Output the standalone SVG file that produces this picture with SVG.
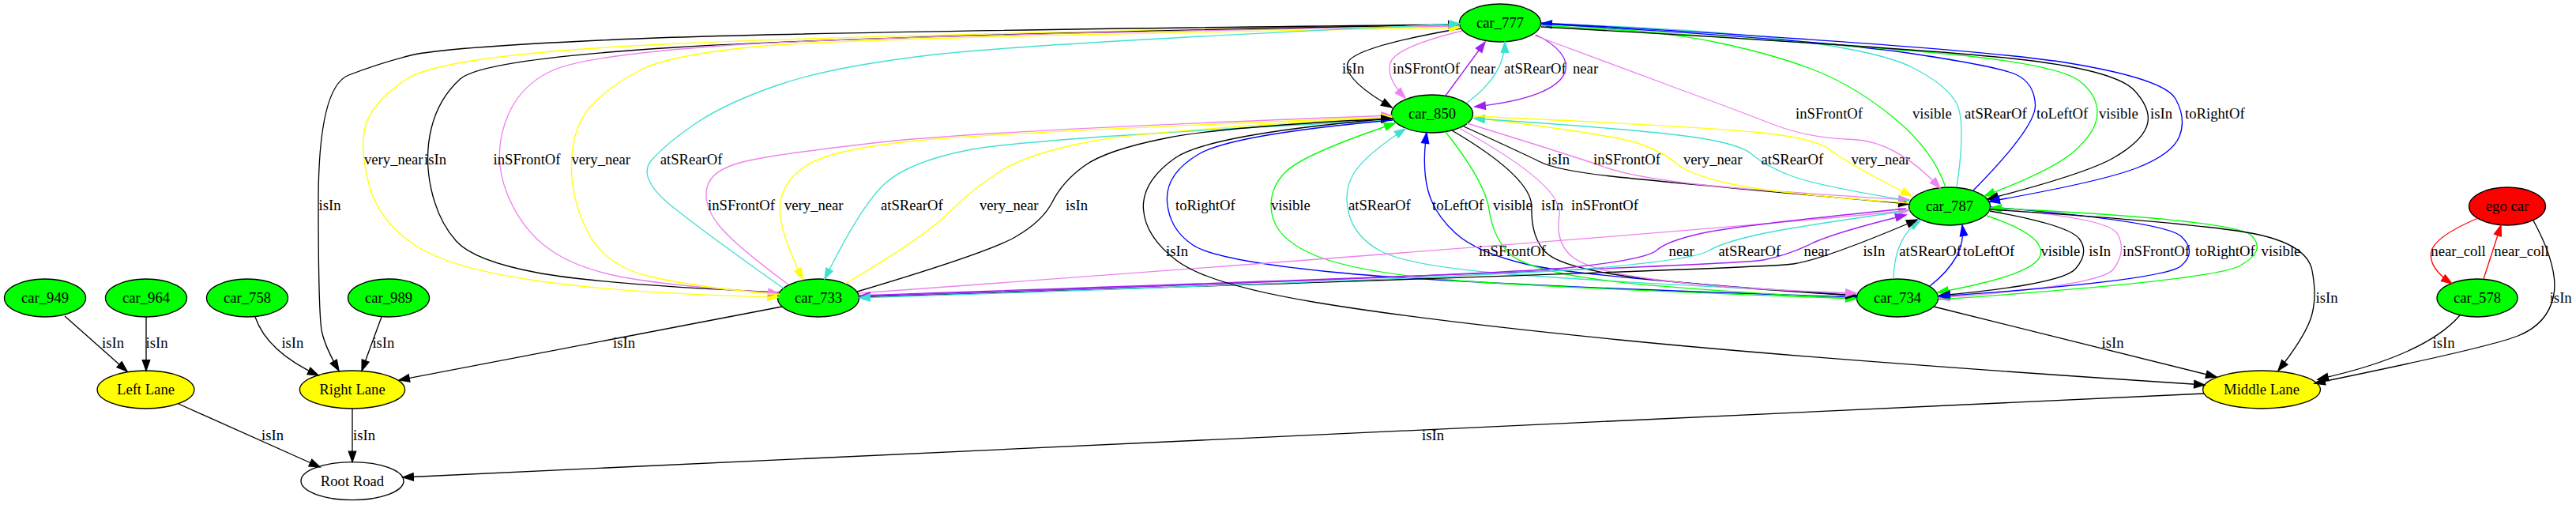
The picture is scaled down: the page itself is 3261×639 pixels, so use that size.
<svg xmlns="http://www.w3.org/2000/svg" width="3261" height="639" viewBox="0 0 3261 639">
<style>
text{font-family:"Liberation Serif","Times New Roman",serif;font-size:18.67px;fill:#000}
.n ellipse{stroke:#000;stroke-width:1.33}
.n text{text-anchor:middle}
.g ellipse{fill:#00ff00}
.y ellipse{fill:#ffff00}
.r ellipse{fill:#ff0000}
.w ellipse{fill:#ffffff}
#connectors path{fill:none;stroke-width:1.33}
.k path{stroke:#000;marker-end:url(#mk)}
.v path{stroke:#ee82ee;marker-end:url(#mv)}
.p path{stroke:#a020f0;marker-end:url(#mp)}
.t path{stroke:#40e0d0;marker-end:url(#mt)}
.yl path{stroke:#ffff00;marker-end:url(#my)}
.gr path{stroke:#00ff00;marker-end:url(#mg)}
.b path{stroke:#0000ff;marker-end:url(#mb)}
.rd path{stroke:#ff0000;marker-end:url(#mr)}
</style>
<defs>
<marker id="mk" markerUnits="userSpaceOnUse" markerWidth="16" markerHeight="12" viewBox="-1 -6 16 12" refX="13.3" refY="0" orient="auto"><path d="M0,-4.67L13.3,0L0,4.67z" fill="#000" stroke="#000" stroke-width="1.33"/></marker>
<marker id="mv" markerUnits="userSpaceOnUse" markerWidth="16" markerHeight="12" viewBox="-1 -6 16 12" refX="13.3" refY="0" orient="auto"><path d="M0,-4.67L13.3,0L0,4.67z" fill="#ee82ee" stroke="#ee82ee" stroke-width="1.33"/></marker>
<marker id="mp" markerUnits="userSpaceOnUse" markerWidth="16" markerHeight="12" viewBox="-1 -6 16 12" refX="13.3" refY="0" orient="auto"><path d="M0,-4.67L13.3,0L0,4.67z" fill="#a020f0" stroke="#a020f0" stroke-width="1.33"/></marker>
<marker id="mt" markerUnits="userSpaceOnUse" markerWidth="16" markerHeight="12" viewBox="-1 -6 16 12" refX="13.3" refY="0" orient="auto"><path d="M0,-4.67L13.3,0L0,4.67z" fill="#40e0d0" stroke="#40e0d0" stroke-width="1.33"/></marker>
<marker id="my" markerUnits="userSpaceOnUse" markerWidth="16" markerHeight="12" viewBox="-1 -6 16 12" refX="13.3" refY="0" orient="auto"><path d="M0,-4.67L13.3,0L0,4.67z" fill="#ffff00" stroke="#ffff00" stroke-width="1.33"/></marker>
<marker id="mg" markerUnits="userSpaceOnUse" markerWidth="16" markerHeight="12" viewBox="-1 -6 16 12" refX="13.3" refY="0" orient="auto"><path d="M0,-4.67L13.3,0L0,4.67z" fill="#00ff00" stroke="#00ff00" stroke-width="1.33"/></marker>
<marker id="mb" markerUnits="userSpaceOnUse" markerWidth="16" markerHeight="12" viewBox="-1 -6 16 12" refX="13.3" refY="0" orient="auto"><path d="M0,-4.67L13.3,0L0,4.67z" fill="#0000ff" stroke="#0000ff" stroke-width="1.33"/></marker>
<marker id="mr" markerUnits="userSpaceOnUse" markerWidth="16" markerHeight="12" viewBox="-1 -6 16 12" refX="13.3" refY="0" orient="auto"><path d="M0,-4.67L13.3,0L0,4.67z" fill="#ff0000" stroke="#ff0000" stroke-width="1.33"/></marker>
</defs>
<rect width="3261" height="639" fill="#ffffff"/>

<g id="nodes">
<g id="car_777" class="n g"><ellipse cx="1899" cy="29" rx="51.5" ry="24"/><text x="1899" y="35">car_777</text></g>
<g id="car_850" class="n g"><ellipse cx="1813" cy="144" rx="51.5" ry="24"/><text x="1813" y="150">car_850</text></g>
<g id="car_787" class="n g"><ellipse cx="2468" cy="261" rx="51.5" ry="24"/><text x="2468" y="267">car_787</text></g>
<g id="ego_car" class="n r"><ellipse cx="3174" cy="261" rx="48.5" ry="24"/><text x="3174" y="267">ego car</text></g>
<g id="car_949" class="n g"><ellipse cx="57" cy="377" rx="51.5" ry="24"/><text x="57" y="383">car_949</text></g>
<g id="car_964" class="n g"><ellipse cx="185" cy="377" rx="51.5" ry="24"/><text x="185" y="383">car_964</text></g>
<g id="car_758" class="n g"><ellipse cx="313" cy="377" rx="51.5" ry="24"/><text x="313" y="383">car_758</text></g>
<g id="car_989" class="n g"><ellipse cx="492" cy="377" rx="51.5" ry="24"/><text x="492" y="383">car_989</text></g>
<g id="car_733" class="n g"><ellipse cx="1036" cy="377" rx="51.5" ry="24"/><text x="1036" y="383">car_733</text></g>
<g id="car_734" class="n g"><ellipse cx="2402" cy="377" rx="51.5" ry="24"/><text x="2402" y="383">car_734</text></g>
<g id="car_578" class="n g"><ellipse cx="3136" cy="377" rx="51" ry="24"/><text x="3136" y="383">car_578</text></g>
<g id="left_lane" class="n y"><ellipse cx="184.5" cy="493" rx="61.4" ry="24"/><text x="184.5" y="499">Left Lane</text></g>
<g id="right_lane" class="n y"><ellipse cx="446" cy="493" rx="66.6" ry="24"/><text x="446" y="499">Right Lane</text></g>
<g id="middle_lane" class="n y"><ellipse cx="2863" cy="493" rx="74.4" ry="24"/><text x="2863" y="499">Middle Lane</text></g>
<g id="root_road" class="n w"><ellipse cx="446" cy="608.6" rx="65" ry="24"/><text x="446" y="614.6">Root Road</text></g>
</g>

<g id="connectors">
<!-- car_777 <-> car_850 -->
<g class="k"><path d="M1849,36 Q1712,60 1706,80 Q1700,100 1762,136"/><text x="1699" y="93">isIn</text></g>
<g class="v"><path d="M1851,39 Q1765,60 1760,80 Q1755,100 1779,124"/><text x="1763" y="93">inSFrontOf</text></g>
<g class="p"><path d="M1830,121 L1880,53"/><text x="1861" y="93">near</text></g>
<g class="t"><path d="M1857,130 Q1905,95 1905,53"/><text x="1904" y="93">atSRearOf</text></g>
<g class="p"><path d="M1944,44 C2000,70 2010,120 1867,135"/><text x="1991" y="93">near</text></g>

<!-- car_777 <-> car_733, car_777 -> Right Lane -->
<g class="k"><path d="M1848,31 Q1000,40 780,50 Q560,60 520,70 Q480,80 441.5,95 Q403,110 403,255 Q403,400 407.5,420 Q412,440 429,469"/><text x="403.6" y="266">isIn</text></g>
<g class="yl"><path d="M1848,32 Q1100,43 830,56.5 Q560,70 515,100 Q470,130 462.5,160 Q455,190 467.5,235 Q480,280 525,310 Q570,340 685,356 Q800,372 985,376"/><text x="461" y="208">very_near</text></g>
<g class="k"><path d="M987,370 Q760,360 680,345 Q600,330 577.5,305 Q555,280 546,240 Q537,200 546,162.5 Q555,125 582.5,100 Q610,75 855,60 Q1100,45 1847,31"/><text x="537" y="208">isIn</text></g>
<g class="v"><path d="M1848,33 Q1100,45 920,57.5 Q740,70 697.5,90 Q655,110 639.5,155 Q624,200 642,245 Q660,290 695,315 Q730,340 790,351 Q850,362 986,371"/><text x="624.5" y="208">inSFrontOf</text></g>
<g class="yl"><path d="M987,373 Q870,362 817.5,348.5 Q765,335 743.5,292.5 Q722,250 723.5,205 Q725,160 747.5,135 Q770,110 810,89 Q850,68 975,57.5 Q1100,47 1848,35"/><text x="723.5" y="208">very_near</text></g>
<g class="t"><path d="M992,365 Q900,300 852.5,262.5 Q805,225 825,202.5 Q845,180 882.5,155 Q920,130 985,107.5 Q1050,85 1175,70 Q1300,55 1848,30"/><text x="835.7" y="208">atSRearOf</text></g>

<!-- car_733 <-> car_850 -->
<g class="v"><path d="M998,360 Q930,310 910,285 Q890,260 895,237.5 Q900,215 940,205 Q980,195 1115,180 Q1250,165 1762,146"/><text x="896" y="266">inSFrontOf</text></g>
<g class="yl"><path d="M1762,148 Q1250,168 1150,179 Q1050,190 1020,210 Q990,230 987.5,260 Q985,290 1016,353"/><text x="993" y="266">very_near</text></g>
<g class="t"><path d="M1763,152 Q1300,175 1225,190 Q1150,205 1120,232.5 Q1090,260 1044,353"/><text x="1115" y="266">atSRearOf</text></g>
<g class="yl"><path d="M1070,359 Q1170,300 1200,270 Q1230,240 1265,217.5 Q1300,195 1375,180 Q1450,165 1762,148"/><text x="1240" y="266">very_near</text></g>
<g class="k"><path d="M1085,369 Q1250,320 1285,300 Q1320,280 1332.5,255 Q1345,230 1372.5,210 Q1400,190 1475,175 Q1550,160 1762,150"/><text x="1349" y="266">isIn</text></g>

<!-- car_850 <-> car_734 -->
<g class="b"><path d="M1763,152 Q1560,170 1517.5,195 Q1475,220 1477.5,255 Q1480,290 1510,310 Q1540,330 1695,345 Q1850,360 2350,376"/><text x="1488" y="266">toRightOf</text></g>
<g class="gr"><path d="M2350,378 Q1900,362 1800,351 Q1700,340 1657.5,320 Q1615,300 1610,270 Q1605,240 1627.5,217.5 Q1650,195 1766,156"/><text x="1609" y="266">visible</text></g>
<g class="t"><path d="M2350,372 Q2000,355 1890,345 Q1780,335 1747.5,317.5 Q1715,300 1707.5,270 Q1700,240 1715,217.5 Q1730,195 1779,163"/><text x="1707" y="266">atSRearOf</text></g>
<g class="b"><path d="M2350,374 Q2000,350 1935,335 Q1870,320 1842.5,295 Q1815,270 1807.5,240 Q1800,210 1806,168"/><text x="1813" y="266">toLeftOf</text></g>
<g class="gr"><path d="M1830,167 Q1880,230 1885,265 Q1890,300 1910,320 Q1930,340 2015,352.5 Q2100,365 2350,378"/><text x="1890" y="266">visible</text></g>
<g class="k"><path d="M1838,165 Q1940,225 1939,262.5 Q1938,300 1956.5,319 Q1975,338 2062.5,350 Q2150,362 2350,374"/><text x="1951" y="266">isIn</text></g>
<g class="v"><path d="M1847,162 Q1980,235 1974,272.5 Q1968,310 1994,327.5 Q2020,345 2110,355.5 Q2200,366 2350,371"/><text x="1989" y="266">inSFrontOf</text></g>

<!-- car_850 <-> car_787 -->
<g class="k"><path d="M1853,160 Q1930,195 1950,205 Q1970,215 2035,222.5 Q2100,230 2417,258"/><text x="1959" y="208">isIn</text></g>
<g class="v"><path d="M1857,156 Q2000,200 2030,211 Q2060,222 2130,231 Q2200,240 2417,253"/><text x="2017" y="208">inSFrontOf</text></g>
<g class="yl"><path d="M2417,257 Q2250,245 2195,233.5 Q2140,222 2122.5,207 Q2105,192 2072.5,181 Q2040,170 1866,149"/><text x="2131" y="208">very_near</text></g>
<g class="t"><path d="M2417,254 Q2300,235 2267.5,222.5 Q2235,210 2217.5,195 Q2200,180 2125,171 Q2050,162 1866,150"/><text x="2229.5" y="208">atSRearOf</text></g>
<g class="yl"><path d="M1866,147 Q2150,160 2225,167.5 Q2300,175 2317.5,190 Q2335,205 2420,248"/><text x="2343.5" y="208">very_near</text></g>

<!-- car_777 <-> car_787 -->
<g class="v"><path d="M1943,45 Q2050,85 2125,112.5 Q2200,140 2245,157.5 Q2290,175 2345,176.5 Q2400,178 2456,238"/><text x="2273" y="150">inSFrontOf</text></g>
<g class="gr"><path d="M2463,237 Q2447,190 2398.5,150 Q2350,110 2300,90 Q2250,70 2175,54 Q2100,38 1951,30"/><text x="2421" y="150">visible</text></g>
<g class="t"><path d="M2477,237 Q2490,150 2475,127.5 Q2460,105 2420,85 Q2380,65 2265,50.5 Q2150,36 1951,30"/><text x="2487" y="150">atSRearOf</text></g>
<g class="b"><path d="M2498,241 Q2578,160 2576.5,132.5 Q2575,105 2552.5,94.5 Q2530,84 2415,67 Q2300,50 1951,30"/><text x="2578" y="150">toLeftOf</text></g>
<g class="gr"><path d="M1951,32 Q2400,60 2505,72.5 Q2610,85 2632.5,102.5 Q2655,120 2655,142.5 Q2655,165 2627.5,190 Q2600,215 2512,248"/><text x="2657" y="150">visible</text></g>
<g class="k"><path d="M1951,34 Q2450,62 2565,76 Q2680,90 2702.5,115 Q2725,140 2717.5,160 Q2710,180 2675,200 Q2640,220 2516,252"/><text x="2722" y="150">isIn</text></g>
<g class="b"><path d="M1951,29 Q2500,60 2620,80 Q2740,100 2754,125 Q2768,150 2759,172.5 Q2750,195 2705,212.5 Q2660,230 2518,255"/><text x="2766" y="150">toRightOf</text></g>

<!-- car_787 <-> car_734 -->
<g class="t"><path d="M2397,353 Q2398,300 2431,279"/><text x="2404.3" y="324">atSRearOf</text></g>
<g class="b"><path d="M2443,362 Q2490,325 2484,285"/><text x="2485" y="324">toLeftOf</text></g>
<g class="gr"><path d="M2515,273 Q2590,298 2583,323 Q2576,348 2453,370"/><text x="2583.5" y="324">visible</text></g>
<g class="k"><path d="M2519,267 Q2620,285 2632.5,302.5 Q2645,320 2627.5,340 Q2610,360 2455,374"/><text x="2644.2" y="324">isIn</text></g>
<g class="v"><path d="M2520,264 Q2670,275 2681,296.5 Q2692,318 2676,340 Q2660,362 2454,377"/><text x="2687" y="324">inSFrontOf</text></g>
<g class="b"><path d="M2520,262 Q2740,280 2761,299 Q2782,318 2761,336.5 Q2740,355 2455,375"/><text x="2779" y="324">toRightOf</text></g>
<g class="gr"><path d="M2454,379 Q2800,355 2835,336.5 Q2870,318 2850,298 Q2830,278 2520,263"/><text x="2862.6" y="324">visible</text></g>

<!-- car_733 <-> car_787 -->
<g class="v"><path d="M1087,371 Q2200,290 2417,266"/><text x="1872" y="324">inSFrontOf</text></g>
<g class="p"><path d="M1087,374 Q2200,336 2232.5,329 Q2265,322 2292.5,308.5 Q2320,295 2413,272"/><text x="2283.6" y="324">near</text></g>
<g class="k"><path d="M1087,376 Q2230,340 2270,334 Q2310,328 2427,278"/><text x="2358.4" y="324">isIn</text></g>
<g class="p"><path d="M2413,264 Q2200,285 2155,295 Q2110,305 2097.5,316.5 Q2085,328 1992.5,338 Q1900,348 1088,375"/><text x="2112.6" y="324">near</text></g>
<g class="t"><path d="M2413,267 Q2270,287 2225,297 Q2180,307 2162.5,317.5 Q2145,328 2022.5,339 Q1900,350 1088,377"/><text x="2175.5" y="324">atSRearOf</text></g>

<!-- to lanes -->
<g class="k"><path d="M1760,150 Q1530,170 1487.5,200 Q1445,230 1447.5,265 Q1450,300 1490,330 Q1530,360 1665,382.5 Q1800,405 2050,430 Q2300,455 2791,487"/><text x="1476" y="324">isIn</text></g>
<g class="k"><path d="M2519,265 Q2750,280 2835,292.5 Q2920,305 2927,342.5 Q2934,380 2924.5,405 Q2915,430 2884,469"/><text x="2931.5" y="383">isIn</text></g>
<g class="rd"><path d="M3137,276 Q3080,300 3077.5,320 Q3075,340 3104,359"/><text x="3077.3" y="324">near_coll</text></g>
<g class="rd"><path d="M3144,353 L3166,285"/><text x="3157.3" y="324">near_coll</text></g>
<g class="k"><path d="M3207,279 Q3240,340 3232.5,375 Q3225,410 3187.5,425 Q3150,440 2930,485"/><text x="3227.7" y="383">isIn</text></g>
<g class="k"><path d="M3114,399 Q3070,450 2934,480"/><text x="3079.6" y="440">isIn</text></g>
<g class="k"><path d="M2448,388 L2806,477"/><text x="2660.5" y="440">isIn</text></g>
<g class="k"><path d="M82,400 L161,470"/><text x="129" y="440">isIn</text></g>
<g class="k"><path d="M185,401 L185,469"/><text x="184.5" y="440">isIn</text></g>
<g class="k"><path d="M323,401 Q338,445 403,475"/><text x="356.4" y="440">isIn</text></g>
<g class="k"><path d="M483,401 L458,469"/><text x="471.4" y="440">isIn</text></g>
<g class="k"><path d="M990,388 L505,481"/><text x="776" y="440">isIn</text></g>
<g class="k"><path d="M226,511 L405,591"/><text x="331" y="557">isIn</text></g>
<g class="k"><path d="M446,517 L446,584.5"/><text x="447" y="557">isIn</text></g>
<g class="k"><path d="M2790,498 L510,604"/><text x="1800" y="557">isIn</text></g>
</g>
</svg>
